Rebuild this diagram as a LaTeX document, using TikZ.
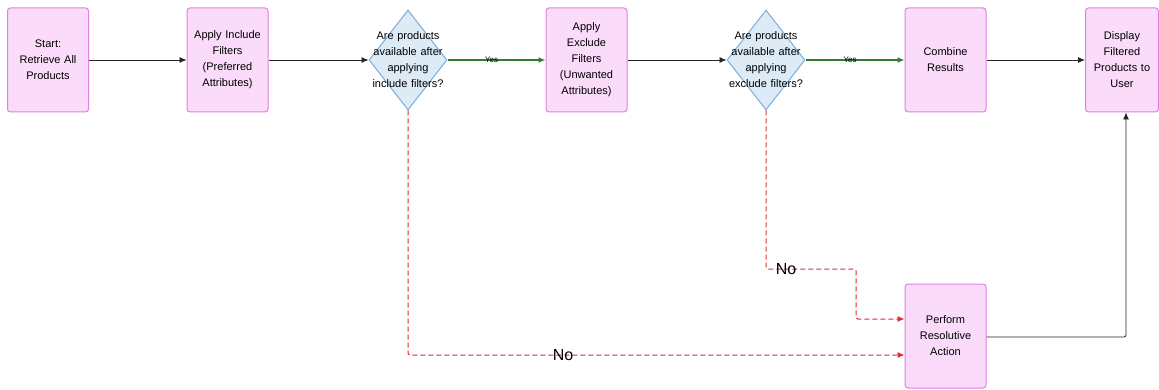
\documentclass[tikz,border=0pt]{standalone}
\usepackage{fontspec}
\setmainfont{Liberation Sans}
\usetikzlibrary{shapes.geometric,arrows.meta}
\definecolor{boxfill}{HTML}{FADCFA}
\definecolor{boxline}{HTML}{E27FE2}
\definecolor{dfill}{HTML}{DDEBF7}
\definecolor{dline}{HTML}{78AEDC}
\definecolor{yesgreen}{HTML}{2E7D32}
\definecolor{nored}{HTML}{E02A35}
\tikzset{
  procbox/.style={draw=boxline, fill=boxfill, line width=1pt, rounded corners=3pt,
    minimum width=81pt, minimum height=104pt, inner sep=0pt},
  boxtext/.style={align=center, text width=80pt, font=\fontsize{11}{16}\selectfont},
  decision/.style={diamond, draw=dline, fill=dfill, line width=1pt,
    minimum width=78pt, minimum height=100pt, inner sep=0pt},
  tip/.style={-{Latex[length=7pt,width=6pt]}},
  flow/.style={tip, draw=black!85, line width=0.8pt},
  yesflow/.style={tip, draw=yesgreen, line width=1.5pt},
  noflow/.style={tip, draw=nored, line width=1pt, dash pattern=on 5pt off 3pt, rounded corners=2pt},
  yeslab/.style={font=\fontsize{8}{9}\selectfont, inner sep=0pt},
  nolab/.style={font=\fontsize{16}{17}\selectfont, inner sep=0pt},
}
\begin{document}
\begin{tikzpicture}[x=1pt,y=-1pt]
\useasboundingbox (0,0) rectangle (1159,390);
\node[procbox] (start) at (48,60) {};
\node[boxtext] (startt) at (start.center) {Start:\\Retrieve All\\Products};
\node[procbox] (inc) at (227.5,60) {};
\node[boxtext] (inct) at (inc.center) {Apply Include\\Filters\\(Preferred\\Attributes)};
\node[decision] (d1) at (408,60) {};
\node[boxtext] (d1t) at (d1.center) {Are products\\available after\\applying\\include filters?};
\node[procbox] (exc) at (586.5,60) {};
\node[boxtext] (exct) at (exc.center) {Apply\\Exclude\\Filters\\(Unwanted\\Attributes)};
\node[decision] (d2) at (766,60) {};
\node[boxtext] (d2t) at (d2.center) {Are products\\available after\\applying\\exclude filters?};
\node[procbox] (comb) at (945.5,60) {};
\node[boxtext] (combt) at (comb.center) {Combine\\Results};
\node[procbox, minimum width=73pt] (disp) at (1122,60) {};
\node[boxtext] (dispt) at (disp.center) {Display\\Filtered\\Products to\\User};
\node[procbox] (perf) at (945.5,336) {};
\node[boxtext] (perft) at (perf.center) {Perform\\Resolutive\\Action};

\draw[flow] (start.east) -- (inc.west);
\draw[flow] (inc.east) -- (d1.west);
\draw[yesflow] (d1.east) -- (exc.west) node[yeslab, pos=0.45, above=-3.5pt] (yes1) {Yes};
\draw[flow] (exc.east) -- (d2.west);
\draw[yesflow] (d2.east) -- (comb.west) node[yeslab, pos=0.45, above=-3.5pt] (yes2) {Yes};
\draw[flow] (comb.east) -- (disp.west);

\coordinate (n1a) at (408,355);
\draw[noflow] (d1.south) -- (n1a) -- (perf.west |- n1a);
\node[nolab] (no1) at (563,355) {No};
\coordinate (n2a) at (766,269);
\coordinate (n2b) at (856,269);
\coordinate (n2c) at (856,319);
\draw[noflow] (d2.south) -- (n2a) -- (n2b) -- (n2c) -- (perf.west |- n2c);
\node[nolab] (no2) at (786,269) {No};

\coordinate (r1) at (1126,337);
\draw[flow, rounded corners=2pt] (perf.east |- r1) -- (r1) -- (disp.south -| r1);
\end{tikzpicture}
\end{document}
